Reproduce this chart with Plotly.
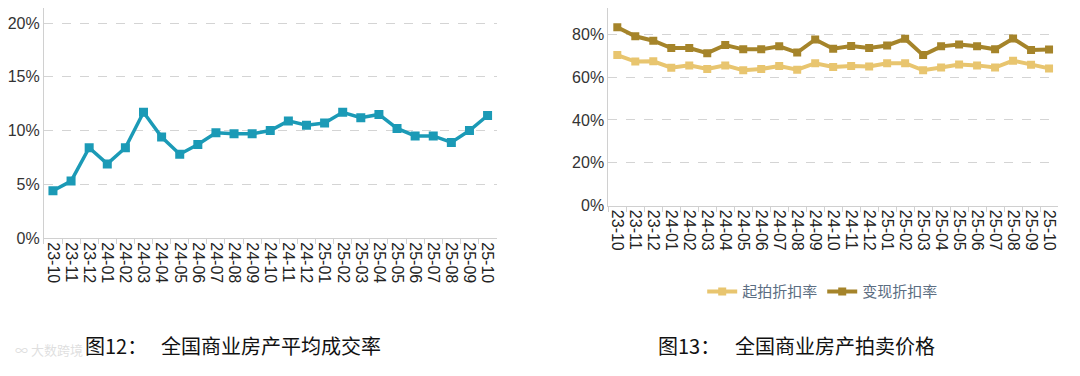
import plotly.graph_objects as go

months = ["23-10", "23-11", "23-12", "24-01", "24-02", "24-03", "24-04", "24-05",
          "24-06", "24-07", "24-08", "24-09", "24-10", "24-11", "24-12", "25-01",
          "25-02", "25-03", "25-04", "25-05", "25-06", "25-07", "25-08", "25-09", "25-10"]

deal_rate = [4.4, 5.3, 8.4, 6.9, 8.4, 11.7, 9.4, 7.8, 8.7, 9.8, 9.7, 9.7, 10.0,
             10.9, 10.5, 10.7, 11.7, 11.2, 11.5, 10.2, 9.5, 9.5, 8.9, 10.0, 11.4]

start_discount = [70.3, 67.3, 67.4, 64.4, 65.5, 63.8, 65.5, 63.2, 63.8, 65.2, 63.5,
                  66.5, 64.8, 65.2, 65.0, 66.5, 66.5, 63.2, 64.5, 65.9, 65.5, 64.5,
                  67.7, 65.8, 64.1]
realize_discount = [83.3, 79.1, 77.0, 73.6, 73.6, 71.2, 75.0, 73.0, 73.0, 74.4, 71.5,
                    77.6, 73.3, 74.5, 73.6, 74.8, 77.9, 70.3, 74.4, 75.3, 74.4, 73.0,
                    78.0, 72.7, 72.9]

left_ticks = [0, 5, 10, 15, 20]
right_ticks = [0, 20, 40, 60, 80]

# page body has an 8px default margin; map screen pixels to paper coords
OFF = 8
W, H = 1064, 360
def px(x):
    return (x - OFF) / W
def py(y):
    return 1 - (y - OFF) / H

TEAL = "#1b9ab6"
DARK = "#a5842a"
LIGHT = "#e8c56f"
GRID = "#d4d4d4"
AXIS = "#d0d0d0"

fig = go.Figure()

fig.add_trace(go.Scatter(
    x=months, y=deal_rate, mode="lines+markers", xaxis="x", yaxis="y",
    line=dict(color=TEAL, width=3.5),
    marker=dict(symbol="square", size=9, color=TEAL),
    showlegend=False, name="平均成交率"))

fig.add_trace(go.Scatter(
    x=months, y=start_discount, mode="lines+markers", xaxis="x2", yaxis="y2",
    line=dict(color=LIGHT, width=4),
    marker=dict(symbol="square", size=8, color=LIGHT),
    name="起拍折扣率"))

fig.add_trace(go.Scatter(
    x=months, y=realize_discount, mode="lines+markers", xaxis="x2", yaxis="y2",
    line=dict(color=DARK, width=4),
    marker=dict(symbol="square", size=8, color=DARK),
    name="变现折扣率"))

xcommon = dict(
    type="category", showgrid=False, showline=True, linecolor=AXIS, linewidth=1,
    ticks="outside", tickson="boundaries", ticklen=5, tickcolor=AXIS,
    tickangle=90, range=[-0.5, 24.5],
    tickmode="array", tickvals=months, ticktext=months,
    tickfont=dict(family="Liberation Sans, Arial", size=16, color="#222222"),
    zeroline=False,
)
ycommon = dict(
    showgrid=True, gridcolor=GRID, griddash="dash", gridwidth=1,
    showline=True, linecolor=AXIS, linewidth=1, ticks="",
    zeroline=False, tickmode="array",
    tickfont=dict(family="Liberation Sans, Arial", size=16, color="#333333"),
)

fig.update_layout(
    width=W, height=H, autosize=False,
    margin=dict(l=0, r=0, t=0, b=0),
    paper_bgcolor="white", plot_bgcolor="white",
    xaxis=dict(domain=[px(41), px(495)], anchor="y", **xcommon),
    yaxis=dict(domain=[py(244), py(8)], anchor="x", range=[0, 21.4],
               tickvals=left_ticks, ticktext=[f"{v}%" for v in left_ticks], **ycommon),
    xaxis2=dict(domain=[px(607), px(1058)], anchor="y2", **xcommon),
    yaxis2=dict(domain=[py(210.7), py(8)], anchor="x2", range=[0, 92.3],
                tickvals=right_ticks, ticktext=[f"{v}%" for v in right_ticks], **ycommon),
    legend=dict(orientation="h", x=px(822), xanchor="center", y=py(299), yanchor="middle",
                font=dict(family="Noto Sans CJK SC", size=15, color="#5b6d82"),
                bgcolor="rgba(0,0,0,0)", itemwidth=30),
    showlegend=True,
)

cap_font = dict(family="Noto Sans CJK SC", size=20, color="#111111")
annotations = [
    dict(text="图12：", x=px(80), y=py(354)),
    dict(text="全国商业房产平均成交率", x=px(156), y=py(354)),
    dict(text="图13：", x=px(655), y=py(354)),
    dict(text="全国商业房产拍卖价格", x=px(732), y=py(354)),
]
for a in annotations:
    fig.add_annotation(xref="paper", yref="paper", xanchor="left", yanchor="middle",
                       showarrow=False, font=cap_font, **a)

fig.add_annotation(text="∞ 大数跨境", xref="paper", yref="paper", x=px(10), y=py(358),
                   xanchor="left", yanchor="middle", showarrow=False,
                   font=dict(family="Noto Sans CJK SC", size=13, color="rgba(215,215,215,0.8)"))

fig.write_html("out.html")
